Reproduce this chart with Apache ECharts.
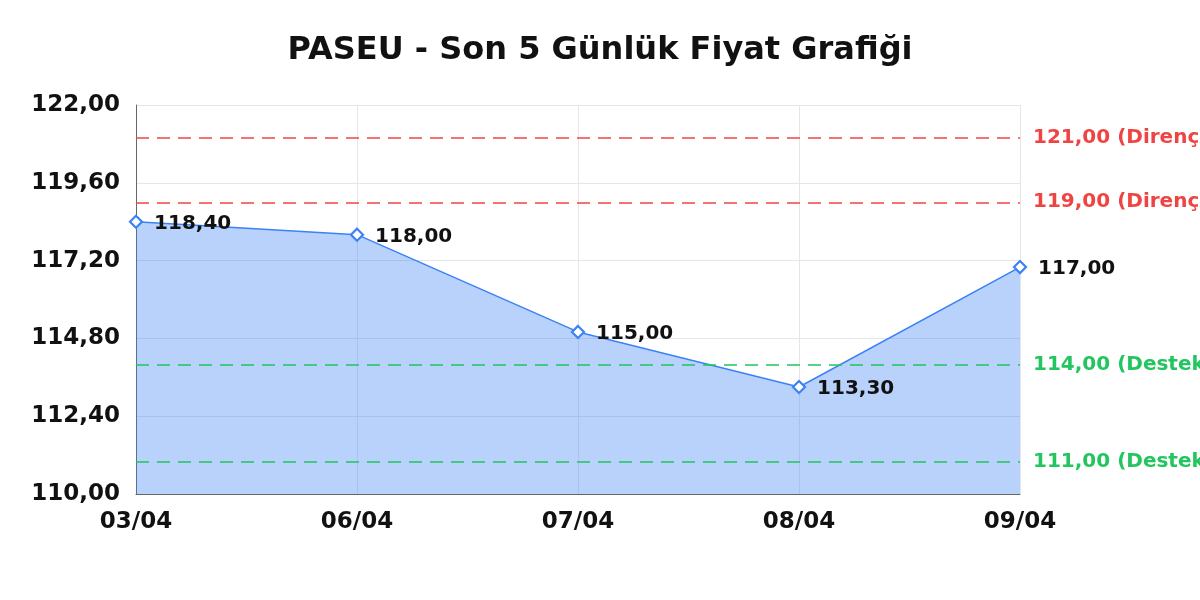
<!DOCTYPE html>
<html><head><meta charset="utf-8">
<script src="https://cdn.jsdelivr.net/npm/echarts@6/dist/echarts.min.js"></script>
<style>html,body{margin:0;padding:0;background:#fff}#c{width:1200px;height:600px}</style>
</head><body><div id="c"></div>
<script>
const categories = ['03/04','06/04','07/04','08/04','09/04'];
const prices = [118.40, 118.00, 115.00, 113.30, 117.00];
const resistance = [121.00, 119.00];
const support = [114.00, 111.00];
const yTicks = {min:110, max:122, interval:2.4};

const fmt = v => v.toFixed(2).replace('.', ',');
const FONT = 'DejaVu Sans';
const chart = echarts.init(document.getElementById('c'));
const markData = [
  ...resistance.map(v => ({yAxis:v, lineStyle:{color:'#ef4444'}, label:{color:'#ef4444', formatter: fmt(v)+' (Direnç)'}})),
  ...support.map(v => ({yAxis:v, lineStyle:{color:'#22c55e'}, label:{color:'#22c55e', formatter: fmt(v)+' (Destek)'}}))
];
chart.setOption({
  animation:false,
  textStyle:{fontFamily:FONT},
  title:{text:'PASEU - Son 5 Günlük Fiyat Grafiği', left:'center', top:30,
    textStyle:{fontFamily:FONT, fontWeight:'bold', fontSize:32, color:'#111'}},
  grid:{left:136, right:180, top:105, bottom:106, containLabel:false},
  xAxis:{type:'category', data:categories, boundaryGap:false,
    axisLine:{lineStyle:{color:'#666'}}, axisTick:{show:false},
    axisLabel:{fontFamily:FONT, fontWeight:'bold', fontSize:23, color:'#111', margin:17},
    splitLine:{show:true, lineStyle:{color:'#e6e6e6'}}},
  yAxis:{type:'value', min:yTicks.min, max:yTicks.max, interval:yTicks.interval,
    axisLine:{show:true, lineStyle:{color:'#666'}}, axisTick:{show:false},
    axisLabel:{fontFamily:FONT, fontWeight:'bold', fontSize:23, color:'#111', margin:16, formatter:fmt},
    splitLine:{show:true, lineStyle:{color:'#e6e6e6'}}},
  series:[{
    type:'line', data:prices,
    symbol:'diamond', symbolSize:12,
    itemStyle:{color:'#fff', borderColor:'#3b82f6', borderWidth:2.2},
    lineStyle:{color:'#3b82f6', width:1.5},
    areaStyle:{color:'rgba(59,130,246,0.36)', opacity:1},
    label:{show:true, position:'right', distance:11, offset:[0,2], formatter:p=>fmt(p.value),
      fontFamily:FONT, fontWeight:'bold', fontSize:20, color:'#111'},
    markLine:{symbol:'none', silent:true,
      lineStyle:{type:[13,8], width:1.5},
      label:{position:'end', distance:13, fontFamily:FONT, fontWeight:'bold', fontSize:20},
      data:markData}
  }]
});
</script></body></html>
